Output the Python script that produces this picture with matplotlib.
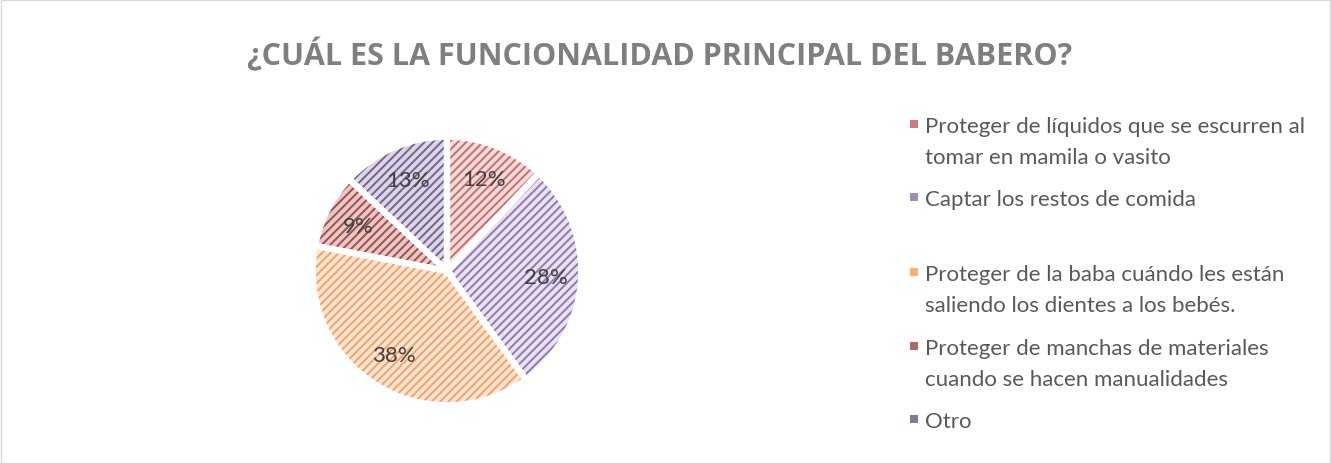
import matplotlib.pyplot as plt
from matplotlib.patches import Rectangle

# ---- data ----
TITLE = '¿CUÁL ES LA FUNCIONALIDAD PRINCIPAL DEL BABERO?'
labels = [
    'Proteger de líquidos que se escurren al\ntomar en mamila o vasito',
    'Captar los restos de comida',
    'Proteger de la baba cuándo les están\nsaliendo los dientes a los bebés.',
    'Proteger de manchas de materiales\ncuando se hacen manualidades',
    'Otro',
]
values = [12, 28, 38, 9, 13]
hatch_colors = ['#CA6C6A', '#9178AF', '#F8A066', '#A24E4C', '#77638F']
face_colors = ['#F2DCDB', '#E8E2F0', '#FDE5D3', '#E6C8C7', '#DDD7E5']
marker_colors = ['#C0504D', '#8064A2', '#F79646', '#953735', '#604A7B']
legend_y = [125, 198, 273, 347, 420]   # pixel rows of first line of each legend entry

W, H = 1331, 464
plt.rcParams['font.family'] = ['Lato', 'DejaVu Sans']
plt.rcParams['hatch.linewidth'] = 1.4

fig = plt.figure(figsize=(W / 100, H / 100), dpi=100)

# chart border
fig.patches.append(Rectangle((0.5 / W, 0.5 / H), 1 - 1.5 / W, 1 - 1.5 / H,
                             transform=fig.transFigure, fill=False,
                             edgecolor='#D9D9D9', linewidth=1))

cx, cy, r = 447, 272, 137
ax = fig.add_axes([(cx - r) / W, (H - cy - r) / H, 2 * r / W, 2 * r / H])

wedges, texts, autotexts = ax.pie(
    values, startangle=90, counterclock=False, radius=1,
    colors=face_colors, autopct='%1.0f%%', pctdistance=0.74,
    wedgeprops=dict(linewidth=0),
    textprops=dict(color='#404040', fontsize=16))
for w, hc in zip(wedges, hatch_colors):
    w.set_hatch('////')
    w.set_edgecolor(hc)
    w.set_linewidth(0)

# white separators on top
ax.pie(values, startangle=90, counterclock=False, radius=1,
       colors=['none'] * len(values),
       wedgeprops=dict(linewidth=4.5, edgecolor='white', fill=False))
for t in autotexts:
    t.set_zorder(5)
ax.set_xlim(-1.02, 1.02)
ax.set_ylim(-1.02, 1.02)
ax.set_aspect('equal')
ax.axis('off')

# title
fig.text(660 / W, 1 - 55 / H, TITLE, ha='center', va='center',
         fontsize=22, fontweight='bold', color='#7F7F7F',
         family=['Open Sans', 'DejaVu Sans'])

# legend
for lab, y, mc in zip(labels, legend_y, marker_colors):
    fig.patches.append(Rectangle((910 / W, (H - y - 4) / H), 8 / W, 8 / H,
                                 transform=fig.transFigure, facecolor=mc,
                                 edgecolor='none', alpha=0.75))
    fig.text(925 / W, 1 - (y - 8) / H, lab, ha='left', va='top',
             fontsize=16, color='#595959', linespacing=1.7)

fig.savefig('out.png', dpi=100)
